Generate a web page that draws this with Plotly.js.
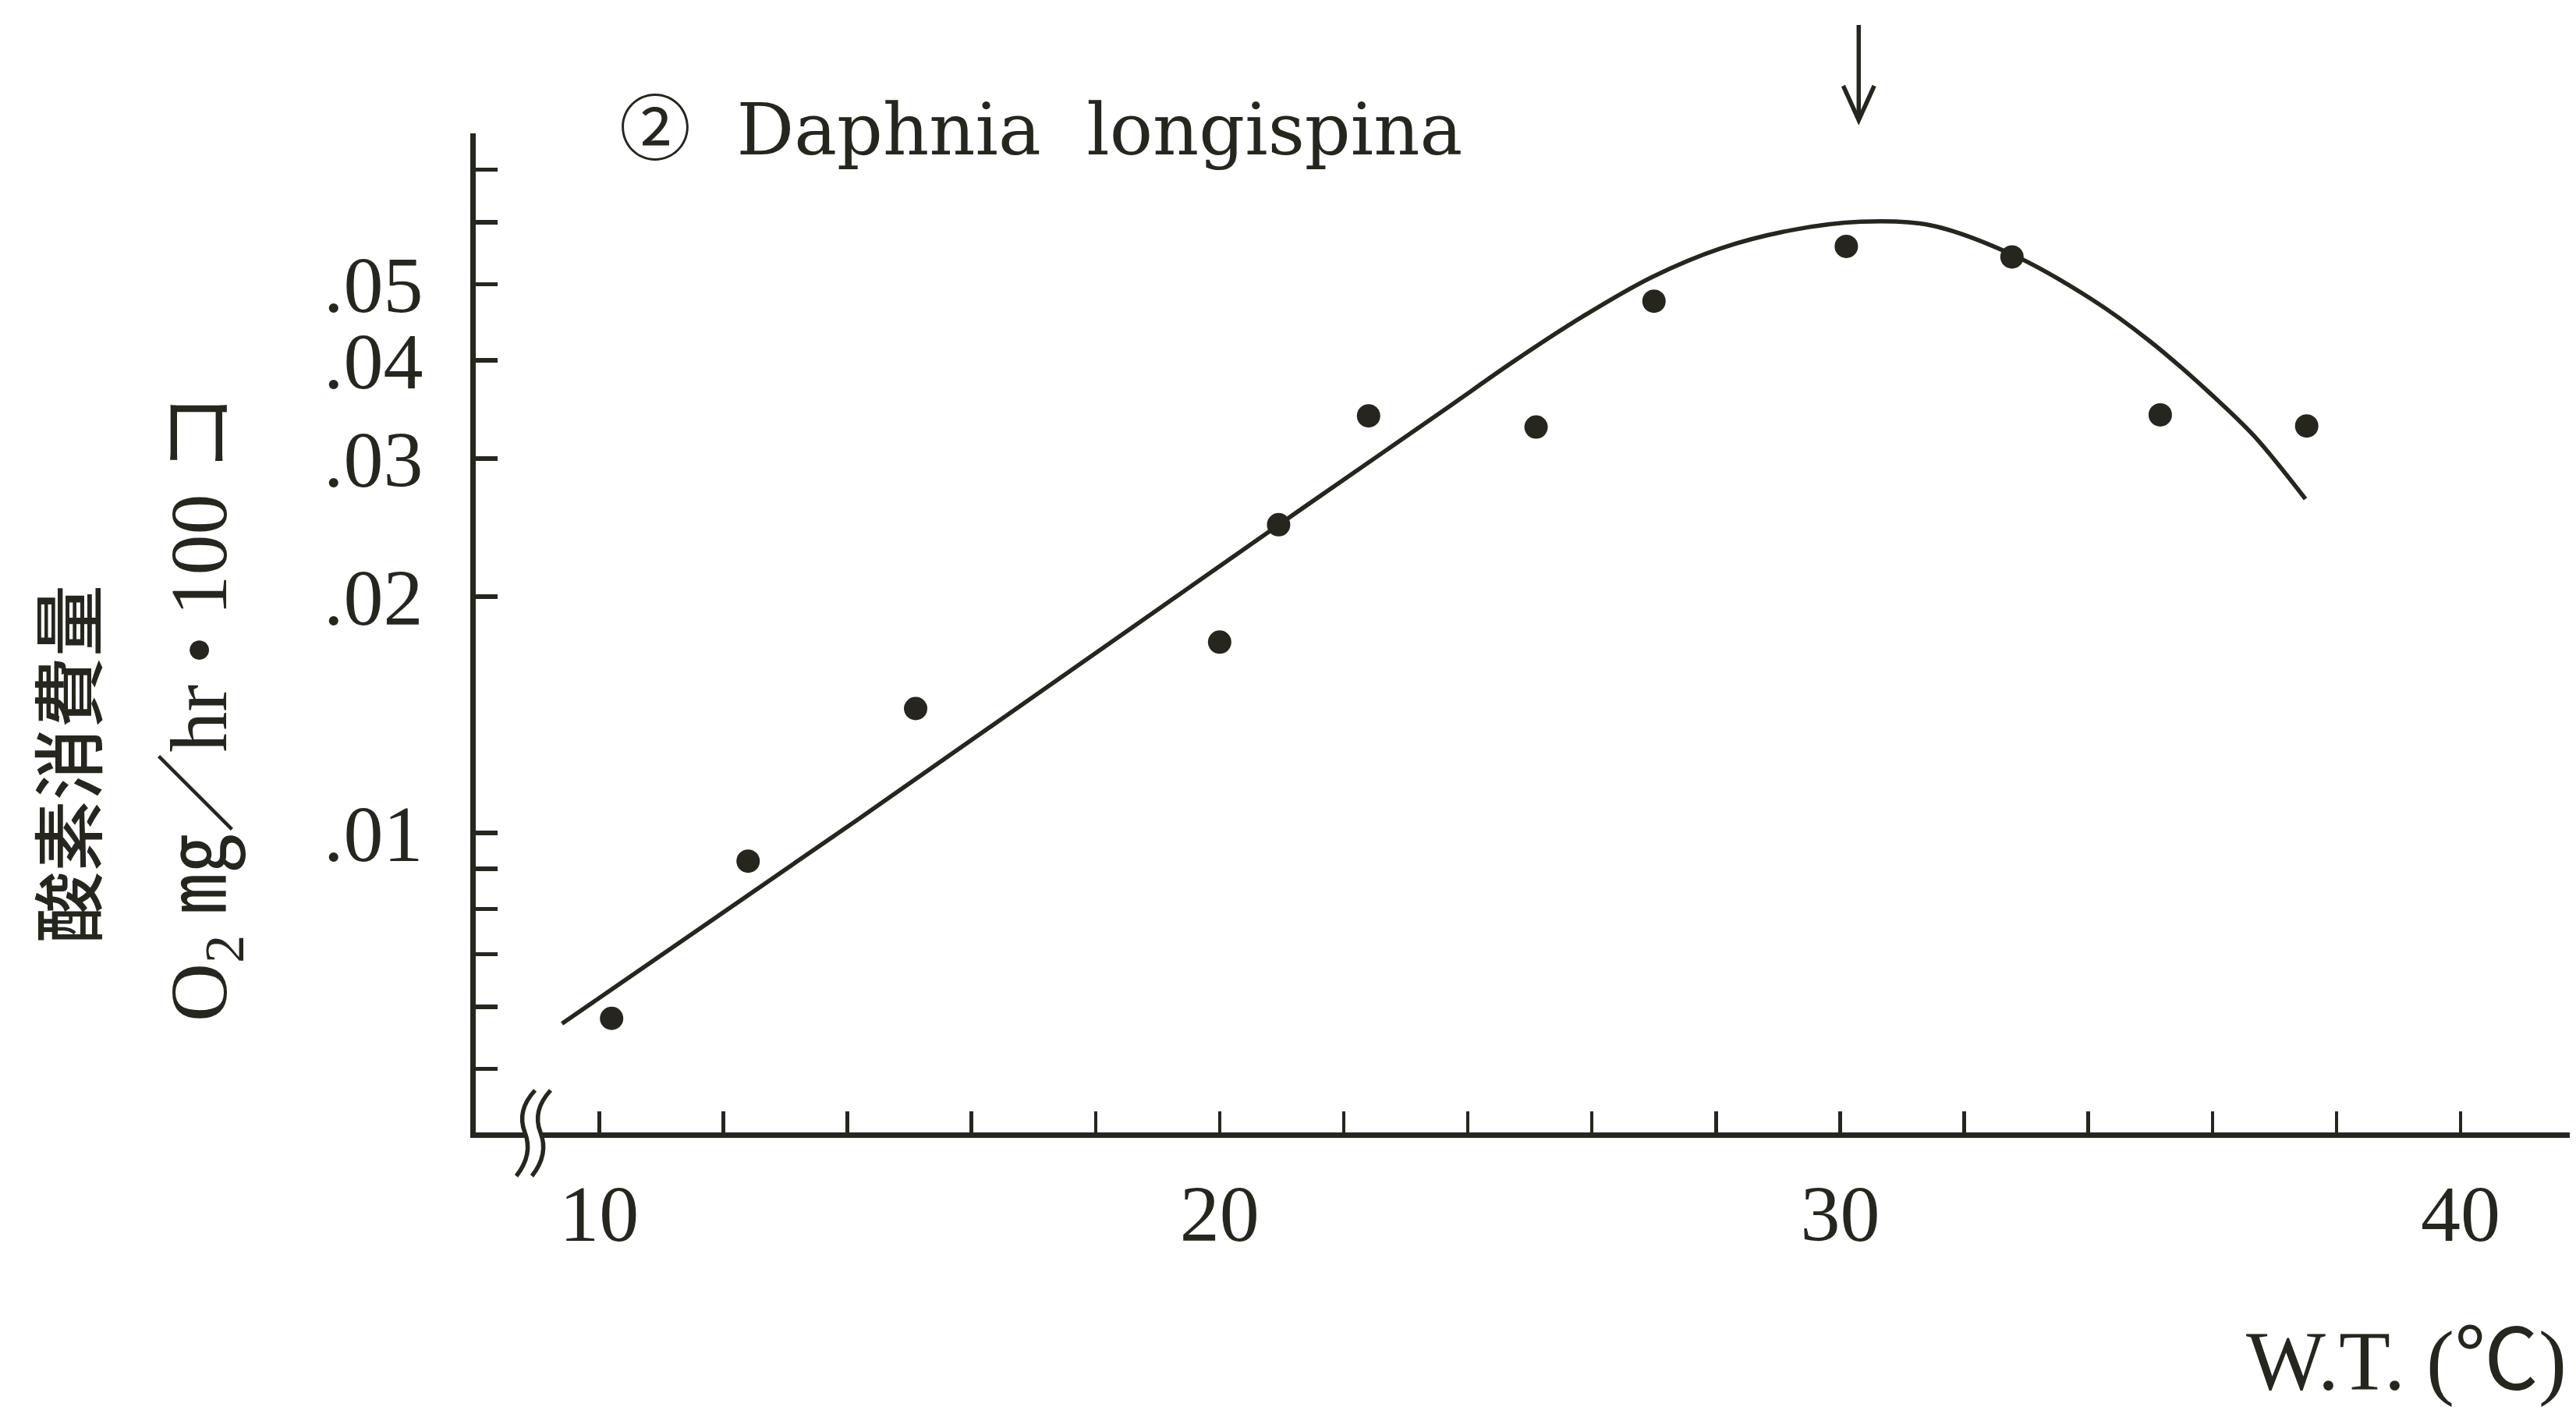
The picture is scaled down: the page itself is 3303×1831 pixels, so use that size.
<!DOCTYPE html>
<html>
<head>
<meta charset="utf-8">
<script src="https://cdn.plot.ly/plotly-3.0.1.min.js"></script>
<style>
  html, body { margin: 0; padding: 0; background: #ffffff; }
  #chart { width: 3303px; height: 1831px; }
</style>
</head>
<body>
<div id="chart"></div>
<script>
// ---- data ----
const tempC  = [10.2, 12.4, 15.1, 20.0, 20.95, 22.4, 25.1, 27.0, 30.1, 32.77, 35.16, 37.52];
const o2Rate = [0.0058, 0.0092, 0.0144, 0.0175, 0.0247, 0.0340, 0.0329, 0.0476, 0.0559, 0.0542, 0.0341, 0.0330];

const curveTemp = [9.40, 14.17, 20.97, 23.60, 24.72, 25.85, 26.97, 28.08, 29.20, 30.33, 31.45, 32.77, 34.03, 34.98, 35.95, 36.68, 37.50];
const curveRate = [0.00571, 0.0104, 0.02475, 0.0345, 0.0398, 0.0455, 0.0511, 0.0556, 0.0586, 0.0601, 0.0595, 0.0546, 0.0480, 0.0424, 0.0364, 0.0320, 0.02664];

const optimumTemp = 30.3;

const yTickVals = [0.005, 0.006, 0.007, 0.008, 0.009, 0.01, 0.02, 0.03, 0.04, 0.05, 0.06, 0.07];
const yTickText = ['', '', '', '', '', '.01', '.02', '.03', '.04', '.05', '', ''];
const xTickVals = [10, 12, 14, 16, 18, 20, 22, 24, 26, 28, 30, 32, 34, 36, 38, 40];
const xTickText = ['10', '', '', '', '', '20', '', '', '', '', '30', '', '', '', '', '40'];

const titleText = '②\u00a0\u00a0Daphnia\u00a0\u00a0longispina';
const yTitle1 = '酸素消費量';
const yTitle2 = 'O<sub>2</sub> ㎎／hr • 100\u00a0コ';
const xTitle = 'W.T. (℃)';

// ---- styling ----
const ink = '#26261f';
const W = 3303, H = 1831;
const L = 610, R = 8, T = 171, B = 379;
const plotW = W - L - R, plotH = H - T - B;
const px = x => ((x - L) / plotW).toFixed(5);
const py = y => ((H - B - y) / plotH).toFixed(5);
const P = (x, y) => px(x) + ',' + py(y);

const breakStroke = dx =>
  'M' + P(686 + dx, 1398) + ' Q' + P(662 + dx, 1424) + ' ' + P(673 + dx, 1452) +
  ' T' + P(662 + dx, 1508);

const traces = [
  {
    x: curveTemp, y: curveRate, type: 'scatter', mode: 'lines',
    line: { color: ink, width: 5.5, shape: 'spline', smoothing: 0.9 },
    hoverinfo: 'skip', showlegend: false
  },
  {
    x: tempC, y: o2Rate, type: 'scatter', mode: 'markers',
    marker: { color: ink, size: 30, line: { width: 0 } },
    showlegend: false, cliponaxis: false
  }
];

const tickFont = { family: '"Liberation Serif", "DejaVu Serif", serif', size: 102, color: ink };

const layout = {
  width: W, height: H,
  margin: { l: L, r: R, t: T, b: B, pad: 0 },
  paper_bgcolor: '#ffffff', plot_bgcolor: '#ffffff',
  showlegend: false,
  xaxis: {
    range: [8.01, 41.76], showgrid: false, zeroline: false,
    showline: true, linecolor: ink, linewidth: 7,
    ticks: 'inside', ticklen: 27, tickwidth: 4.5, tickcolor: ink,
    tickmode: 'array', tickvals: xTickVals, ticktext: xTickText,
    tickfont: tickFont, ticklabelstandoff: 10
  },
  yaxis: {
    type: 'log', range: [Math.log10(0.00415), Math.log10(0.0779)],
    showgrid: false, zeroline: false,
    showline: true, linecolor: ink, linewidth: 7,
    ticks: 'inside', ticklen: 28, tickwidth: 5.5, tickcolor: ink,
    tickmode: 'array', tickvals: yTickVals, ticktext: yTickText,
    tickfont: tickFont, ticklabelstandoff: 40
  },
  shapes: [
    // axis break mark
    { type: 'rect', xref: 'paper', yref: 'paper', layer: 'above',
      x0: px(676), x1: px(692), y0: py(1460), y1: py(1444),
      fillcolor: '#ffffff', line: { width: 0 } },
    { type: 'path', xref: 'paper', yref: 'paper', layer: 'above',
      path: breakStroke(0), line: { color: ink, width: 5.5 } },
    { type: 'path', xref: 'paper', yref: 'paper', layer: 'above',
      path: breakStroke(20), line: { color: ink, width: 5.5 } },
    // optimum arrow
    { type: 'line', xref: 'x', yref: 'paper', layer: 'above',
      x0: optimumTemp, x1: optimumTemp, y0: py(32), y1: py(152),
      line: { color: ink, width: 5.5 } },
    { type: 'path', xref: 'x', yref: 'paper', layer: 'above',
      path: 'M' + (optimumTemp - 0.25) + ',' + py(110) + ' L' + optimumTemp + ',' + py(154) +
            ' L' + (optimumTemp + 0.25) + ',' + py(110),
      line: { color: ink, width: 5.5 } }
  ],
  annotations: [
    { text: titleText, xref: 'paper', yref: 'paper', x: px(792), y: py(166),
      xanchor: 'left', yanchor: 'middle', showarrow: false,
      font: { family: '"DejaVu Serif", "Noto Sans CJK JP", serif', size: 92, color: ink } },
    { text: yTitle1, xref: 'paper', yref: 'paper', x: px(82), y: py(980),
      xanchor: 'center', yanchor: 'middle', showarrow: false, textangle: -90,
      font: { family: '"Noto Sans CJK JP", sans-serif', size: 92, color: ink, weight: 500 } },
    { text: yTitle2, xref: 'paper', yref: 'paper', x: px(263), y: py(906),
      xanchor: 'center', yanchor: 'middle', showarrow: false, textangle: -90,
      font: { family: '"Liberation Serif", "Noto Sans CJK JP", serif', size: 104, color: ink } },
    { text: xTitle, xref: 'paper', yref: 'paper', x: px(3293), y: py(1745),
      xanchor: 'right', yanchor: 'middle', showarrow: false,
      font: { family: '"Liberation Serif", "Noto Sans CJK JP", serif', size: 108, color: ink } }
  ]
};

Plotly.newPlot('chart', traces, layout, { staticPlot: true, displayModeBar: false });
</script>
</body>
</html>
